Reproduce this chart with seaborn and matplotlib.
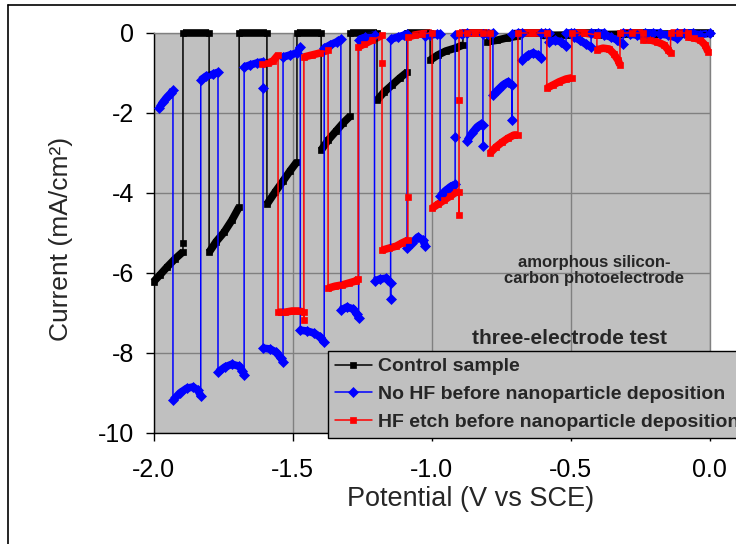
import numpy as np
import pandas as pd
import matplotlib
matplotlib.use("Agg")
import matplotlib.pyplot as plt
from matplotlib.lines import Line2D
import seaborn as sns

# ---------------- data ----------------
ctrl_v = [-2.000, -1.977, -1.951, -1.923, -1.894, -1.894, -1.894,
          -1.800, -1.800, -1.775, -1.746, -1.718, -1.692, -1.692,
          -1.592, -1.592, -1.563, -1.534, -1.509, -1.484, -1.484,
          -1.397, -1.397, -1.372, -1.343, -1.318, -1.293, -1.293,
          -1.196, -1.196, -1.171, -1.142, -1.113, -1.088, -1.088,
          -1.005, -1.005, -0.977, -0.948, -0.915, -0.887, -0.887,
          -0.800, -0.800, -0.764, -0.728, -0.692, -0.692,
          -0.600, -0.600, -0.500, -0.500, -0.400, -0.400, -0.300, -0.300,
          -0.200, -0.200, -0.100, -0.100, 0.000]
ctrl_i = [-6.22, -6.05, -5.85, -5.65, -5.47, -5.25, 0.00,
          0.00, -5.48, -5.22, -4.98, -4.68, -4.35, 0.00,
          0.00, -4.28, -3.98, -3.70, -3.45, -3.22, 0.00,
          0.00, -2.93, -2.68, -2.45, -2.25, -2.08, 0.00,
          0.00, -1.68, -1.48, -1.30, -1.12, -0.98, 0.00,
          0.00, -0.68, -0.55, -0.45, -0.38, -0.30, 0.00,
          0.00, -0.22, -0.18, -0.12, -0.08, 0.00,
          0.00, -0.06, -0.05, 0.00, 0.00, -0.04, -0.03, 0.00,
          0.00, -0.03, -0.02, 0.00, 0.00]

nohf_v = [-1.980, -1.966, -1.951, -1.937, -1.930,
          -1.930, -1.905, -1.880, -1.858, -1.840, -1.830,
          -1.830, -1.811, -1.786, -1.768,
          -1.768, -1.743, -1.718, -1.692, -1.680, -1.674,
          -1.674, -1.653, -1.628, -1.606, -1.606,
          -1.606, -1.581, -1.559, -1.541, -1.534,
          -1.534, -1.509, -1.484, -1.472,
          -1.472, -1.448, -1.423, -1.401, -1.386,
          -1.386, -1.365, -1.340, -1.326,
          -1.326, -1.304, -1.282, -1.268, -1.262,
          -1.262, -1.238, -1.205,
          -1.205, -1.185, -1.163, -1.147, -1.147,
          -1.147, -1.120, -1.098, -1.088,
          -1.088, -1.070, -1.049, -1.031, -1.022,
          -1.022, -1.005, -0.980, -0.969,
          -0.969, -0.951, -0.933, -0.915, -0.915,
          -0.915, -0.890, -0.872,
          -0.872, -0.854, -0.836, -0.822, -0.815, -0.815,
          -0.815, -0.795, -0.779,
          -0.779, -0.761, -0.743, -0.725, -0.710, -0.710,
          -0.710, -0.690, -0.674,
          -0.674, -0.652, -0.635, -0.617, -0.606,
          -0.606, -0.590, -0.577,
          -0.577, -0.555, -0.534, -0.516,
          -0.516, -0.500, -0.487,
          -0.487, -0.466, -0.444, -0.426,
          -0.426, -0.400, -0.379,
          -0.379, -0.354, -0.333, -0.311,
          -0.311, -0.286,
          -0.286, -0.261, -0.232,
          -0.232, -0.205, -0.178,
          -0.178, -0.149, -0.117,
          -0.117, -0.090, -0.060,
          -0.060, -0.034, 0.000]
nohf_i = [-1.88, -1.73, -1.60, -1.50, -1.43,
          -9.18, -9.00, -8.88, -8.85, -8.93, -9.08,
          -1.18, -1.08, -1.03, -0.98,
          -8.48, -8.35, -8.28, -8.33, -8.45, -8.55,
          -0.85, -0.80, -0.75, -0.72, -1.38,
          -7.88, -7.90, -7.98, -8.13, -8.22,
          -0.60, -0.55, -0.50, -0.35,
          -7.43, -7.45, -7.50, -7.60, -7.73,
          -0.38, -0.30, -0.22, -0.15,
          -6.93, -6.85, -6.90, -7.03, -7.13,
          -0.17, -0.10, -0.05,
          -6.20, -6.15, -6.13, -6.25, -6.65,
          -0.15, -0.10, -0.05, -0.03,
          -5.38, -5.25, -5.10, -5.18, -5.33,
          -0.08, -0.05, -0.03, -0.03,
          -4.08, -3.95, -3.85, -3.78, -2.60,
          -0.05, -0.03, 0.00,
          -2.70, -2.50, -2.35, -2.28, -2.30, -2.83,
          -0.03, -0.02, -0.01,
          -1.55, -1.42, -1.30, -1.22, -1.30, -2.18,
          -0.02, -0.01, 0.00,
          -0.68, -0.55, -0.50, -0.55, -0.62,
          0.00, 0.00, 0.00,
          -0.22, -0.18, -0.22, -0.32,
          0.00, 0.00, 0.00,
          -0.10, -0.18, -0.28, -0.35,
          0.00, 0.00, 0.00,
          -0.05, -0.10, -0.17, -0.28,
          0.00, 0.00,
          -0.03, -0.05, -0.10,
          0.00, 0.00, 0.00,
          -0.03, -0.05, -0.13,
          0.00, 0.00, 0.00,
          -0.02, -0.04, -0.01]

hf_v = [-1.610, -1.588, -1.570, -1.552,
        -1.552, -1.527, -1.502, -1.477, -1.459, -1.459,
        -1.459, -1.430, -1.401, -1.372,
        -1.372, -1.347, -1.322, -1.297, -1.272, -1.264,
        -1.264, -1.243, -1.214, -1.178, -1.178,
        -1.178, -1.153, -1.127, -1.106, -1.085, -1.085,
        -1.085, -1.060, -1.034, -0.998,
        -0.998, -0.977, -0.955, -0.933, -0.912, -0.901, -0.901, -0.901,
        -0.901, -0.872, -0.843, -0.815, -0.789,
        -0.789, -0.768, -0.746, -0.725, -0.703, -0.689,
        -0.689, -0.640, -0.585,
        -0.585, -0.563, -0.541, -0.516, -0.495,
        -0.495, -0.450, -0.405,
        -0.405, -0.383, -0.361, -0.344, -0.329, -0.322,
        -0.322, -0.280, -0.239,
        -0.239, -0.214, -0.189, -0.163, -0.149, -0.140,
        -0.140, -0.110, -0.077,
        -0.077, -0.055, -0.034, -0.016, -0.005]
hf_i = [-0.78, -0.75, -0.70, -0.55,
        -6.98, -6.98, -6.95, -6.95, -6.98, -7.18,
        -0.60, -0.55, -0.50, -0.43,
        -6.38, -6.33, -6.30, -6.25, -6.20, -6.15,
        -0.35, -0.28, -0.18, -0.06, -0.75,
        -5.43, -5.38, -5.33, -5.25, -5.18, -4.10,
        -0.10, -0.05, -0.02, 0.00,
        -4.38, -4.28, -4.18, -4.08, -3.98, -3.98, -4.55, -1.68,
        0.00, 0.00, 0.00, 0.00, 0.00,
        -3.00, -2.85, -2.73, -2.63, -2.55, -2.55,
        0.00, 0.00, 0.00,
        -1.38, -1.30, -1.22, -1.15, -1.12,
        0.00, 0.00, -0.05,
        -0.42, -0.38, -0.40, -0.52, -0.68, -0.80,
        0.00, 0.00, 0.00,
        -0.17, -0.17, -0.22, -0.30, -0.42, -0.50,
        0.00, 0.00, 0.00,
        -0.10, -0.12, -0.17, -0.30, -0.47]

series_labels = ["Control sample",
                 "No HF before nanoparticle deposition",
                 "HF etch before nanoparticle deposition"]
x_ticks = [-2.0, -1.5, -1.0, -0.5, 0.0]
x_ticklabels = ["-2.0", "-1.5", "-1.0", "-0.5", "0.0"]
y_ticks = [0, -2, -4, -6, -8, -10]
y_ticklabels = ["0", "-2", "-4", "-6", "-8", "-10"]

# ---------------- style ----------------
sns.set_style("ticks")
plt.rcParams["font.family"] = ["Liberation Sans", "DejaVu Sans"]

W, H = 736, 544
fig = plt.figure(figsize=(W / 100, H / 100), dpi=100)
ax = fig.add_axes([153.5 / W, 1 - 433 / H, (709.5 - 153.5) / W, (433 - 33) / H])
ax.set_facecolor("#c0c0c0")


def plateau(v, i):
    """Break the series at vertical (chopped-light) jumps so plateaus can be drawn thick."""
    xs, ys = [v[0]], [i[0]]
    for k in range(1, len(v)):
        if abs(v[k] - v[k - 1]) < 1e-9:
            xs.append(np.nan)
            ys.append(np.nan)
        xs.append(v[k])
        ys.append(i[k])
    return xs, ys


styles = [("black", "s", 4.4), ("#0000ff", "D", 4.8), ("#ff0000", "s", 4.8)]
data = [(ctrl_v, ctrl_i), (nohf_v, nohf_i), (hf_v, hf_i)]

for (v, i), lab, (c, m, ms) in zip(data, series_labels, styles):
    bx, by = plateau(v, i)
    ax.plot(bx, by, color=c, lw=5.5, solid_capstyle="butt", clip_on=False, zorder=3)
    df = pd.DataFrame({"V": v, "I": i})
    sns.lineplot(data=df, x="V", y="I", sort=False, estimator=None, ax=ax,
                 color=c, lw=1.1, marker=m, markersize=ms, mec=c, mew=0.5,
                 label=lab, clip_on=False, zorder=4)

ax.set_xlim(-2.0, 0.0)
ax.set_ylim(-10, 0)
ax.set_xticks(x_ticks)
ax.set_xticklabels(x_ticklabels)
ax.set_yticks(y_ticks)
ax.set_yticklabels(y_ticklabels)
ax.set_xlabel("")
ax.set_ylabel("")
ax.grid(True, color="#808080", lw=1)
ax.set_axisbelow(True)
for s in ["left", "bottom"]:
    ax.spines[s].set_color("black")
    ax.spines[s].set_linewidth(1)
for s in ["top", "right"]:
    ax.spines[s].set_color("#808080")
    ax.spines[s].set_linewidth(1)
ax.tick_params(axis="both", direction="out", length=6, width=1, labelsize=18,
               colors="black")
ax.tick_params(axis="x", pad=12)
ax.tick_params(axis="y", pad=8)

fig.text(471 / W, 1 - 499 / H, "Potential (V vs SCE)", ha="center", va="center",
         fontsize=19.5)
fig.text(61 / W, 1 - 239 / H, "Current (mA/cm²)", ha="center", va="center",
         rotation=90, fontsize=19)

fig.text(594 / W, 1 - 270.5 / H, "amorphous silicon-\ncarbon photoelectrode",
         ha="center", va="center", fontsize=12, fontweight="bold", linespacing=1.15)
fig.text(570 / W, 1 - 338 / H, "three-electrode test", ha="center", va="center",
         fontsize=15, fontweight="bold")

handles, labels = ax.get_legend_handles_labels()
if ax.get_legend() is not None:
    ax.get_legend().remove()
leg = ax.legend(handles, labels, loc="upper left",
                bbox_to_anchor=(328 / W, 1 - 351 / H), bbox_transform=fig.transFigure,
                borderaxespad=0, frameon=True, fancybox=False, edgecolor="black",
                facecolor="#c0c0c0", framealpha=1,
                prop={"family": "Liberation Sans", "weight": "bold", "size": 14},
                handlelength=1.9, handletextpad=0.3, borderpad=0.35, labelspacing=0.52)
leg.get_frame().set_linewidth(1.0)
leg.set_zorder(10)

# figure border (partly cut off in the reference)
fig.add_artist(Line2D([8 / W, 8 / W], [1 - 5 / H, 0], color="black", lw=1.2,
                      transform=fig.transFigure))
fig.add_artist(Line2D([8 / W, 1], [1 - 5 / H, 1 - 5 / H], color="black", lw=1.2,
                      transform=fig.transFigure))

fig.savefig("out.png", dpi=100)
